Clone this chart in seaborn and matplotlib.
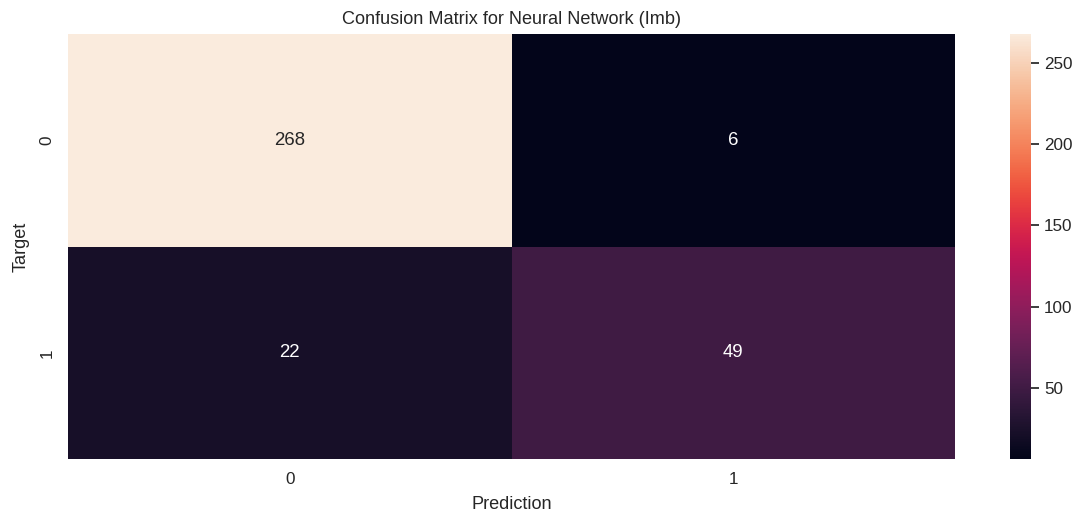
import matplotlib
matplotlib.use("Agg")
import matplotlib.pyplot as plt
import seaborn as sns
import numpy as np
import pandas as pd

# Confusion matrix counts (rows: target, columns: prediction)
class_labels = ["0", "1"]
row_target_0 = [268, 6]
row_target_1 = [22, 49]

sns.set_theme(font_scale=1.12)
plt.rcParams["font.family"] = ["Liberation Sans", "DejaVu Sans"]

cm = pd.DataFrame([row_target_0, row_target_1], index=class_labels, columns=class_labels)

fig = plt.figure(figsize=(10.78, 5.12), dpi=100)
ax = fig.add_axes([68 / 1078, 53 / 512, 887 / 1078, 425 / 512])
cax = fig.add_axes([1010 / 1078, 53 / 512, 21 / 1078, 425 / 512])

sns.heatmap(cm, annot=True, fmt="d", ax=ax, cbar_ax=cax)
ax.set_title("Confusion Matrix for Neural Network (Imb)", fontsize=13.1, pad=7)
ax.set_xlabel("Prediction", fontsize=13.1, labelpad=6)
ax.set_ylabel("Target", fontsize=13.1, labelpad=7)

fig.savefig("out.png", dpi=100)
